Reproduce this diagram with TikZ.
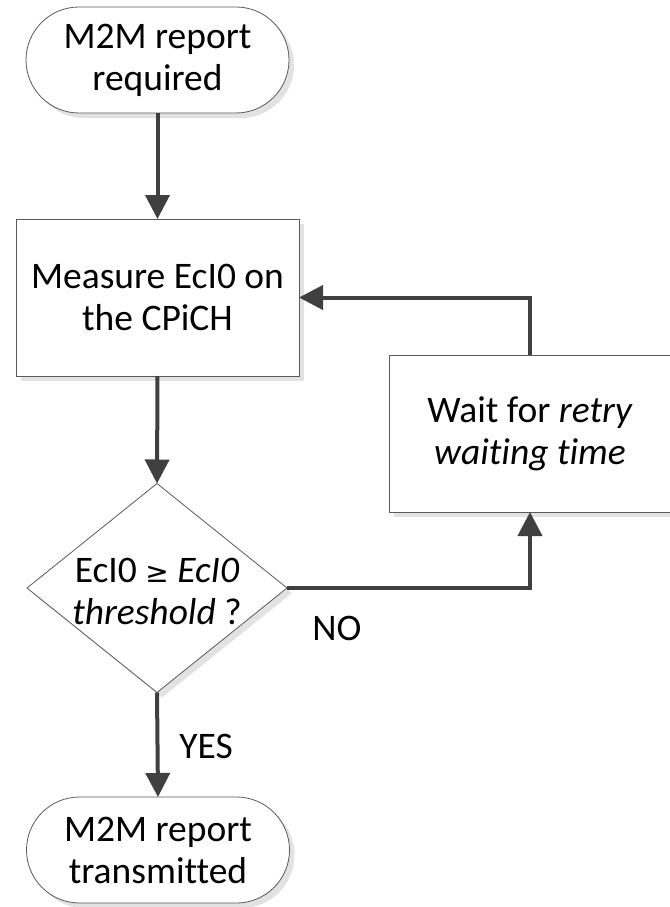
\documentclass[tikz,border=0pt]{standalone}
\usepackage{fontspec}
\setmainfont{Carlito}[Ligatures=NoCommon]
\newfontfamily\symbfont{DejaVu Sans}
\usetikzlibrary{arrows.meta,shapes.geometric,shadows}
\definecolor{arrowgray}{HTML}{404040}
\definecolor{edgegray}{HTML}{5A5A5A}
\definecolor{shadowgray}{HTML}{E2E2E2}
\newcommand{\geqsym}{{\symbfont\fontsize{28}{42}\selectfont ≥}}
\begin{document}
\begin{tikzpicture}[x=1pt,y=-1pt,
  every node/.style={font=\fontsize{37.5}{42}\selectfont, align=center, outer sep=0pt},
  shade box/.style={general shadow={fill=shadowgray, shadow xshift=5pt, shadow yshift=-5pt}},
  terminal/.style={draw=edgegray, line width=0.8pt, fill=white, rectangle, rounded corners=53pt,
    minimum width=263pt, minimum height=106pt, inner sep=0pt, shade box},
  process/.style={draw=edgegray, line width=0.8pt, fill=white, rectangle,
    minimum width=283pt, minimum height=157pt, inner sep=0pt, shade box},
  decision/.style={draw=edgegray, line width=0.8pt, fill=white, diamond, aspect=1,
    minimum width=260pt, minimum height=209pt, inner sep=0pt, shade box},
  flow/.style={draw=arrowgray, line width=4pt, -{Triangle[width=24pt,length=24pt]}},
  lbl/.style={inner sep=0pt}
]
\useasboundingbox (0,0) rectangle (669,907);

\node[terminal] (start) at (157.5,60) {M2M report\\required};
\node[process] (meas) at (157.5,297.5) {Measure EcI0 on\\the CPiCH};
\node[decision] (dia) at (157,588) {};
\node[lbl] (diatext) at (157,591) {EcI0 \geqsym{} \textit{EcI0}\\\textit{threshold} ?};
\node[process, minimum width=282pt] (wait) at (530,433.5) {Wait for \textit{retry}\\\textit{waiting time}};
\node[terminal] (stop) at (158,850) {M2M report\\transmitted};

\draw[flow] (start.south) -- (meas.north);
\draw[flow] (meas.south) -- (dia.north);
\draw[flow] (dia.east) -| (wait.south);
\draw[flow] (wait.north) |- (meas.east);
\draw[flow] (dia.south) -- (stop.north);

\node[lbl] (yes) at (206,746) {YES};
\node[lbl] (no) at (337,628) {NO};
\end{tikzpicture}
\end{document}
